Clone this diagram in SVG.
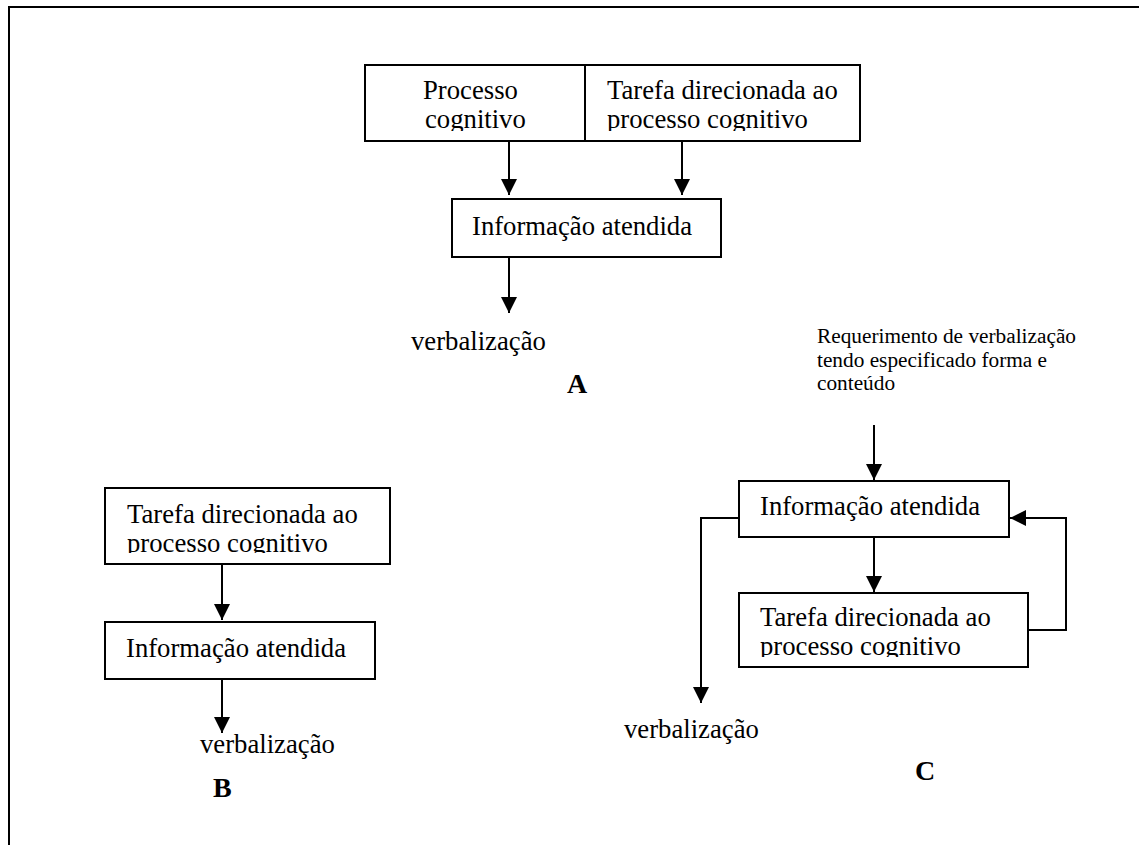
<svg xmlns="http://www.w3.org/2000/svg" width="1139" height="845" viewBox="0 0 1139 845">
<style>
  .box { fill: #fff; stroke: #000; stroke-width: 2; }
  .t { font-family: "Liberation Serif", "Times New Roman", serif; font-size: 26.7px; fill: #000; }
  .s { font-family: "Liberation Serif", "Times New Roman", serif; font-size: 21.3px; fill: #000; }
  .lbl { font-family: "Liberation Serif", "Times New Roman", serif; font-size: 28px; font-weight: bold; fill: #000; }
  .c { fill: none; stroke: #000; stroke-width: 2; marker-end: url(#ah); }
</style>
<defs>
  <marker id="ah" markerUnits="userSpaceOnUse" markerWidth="16" markerHeight="16" viewBox="0 0 16 16" refX="16" refY="8" orient="auto">
    <path d="M0,0 L16,8 L0,16 z" fill="#000"/>
  </marker>
  <clipPath id="clipA"><rect x="365" y="65" width="495" height="66"/></clipPath>
  <clipPath id="clipB1"><rect x="105" y="488" width="285" height="65"/></clipPath>
  <clipPath id="clipC2"><rect x="739" y="593" width="289" height="64"/></clipPath>
</defs>
<rect width="1139" height="845" fill="#fff"/>
<path d="M9,845 V7 H1139" fill="none" stroke="#000" stroke-width="2"/>

<g id="connectors">
  <path class="c" d="M509,141 V195"/>
  <path class="c" d="M682,141 V195"/>
  <path class="c" d="M509,257 V313"/>
  <path class="c" d="M222,564 V620"/>
  <path class="c" d="M222,679 V733"/>
  <path class="c" d="M874,425 V480"/>
  <path class="c" d="M874,537 V592"/>
  <path class="c" d="M739,518 H701 V703"/>
  <path class="c" d="M1028,630 H1066 V518 H1010"/>
</g>

<g id="A-processo">
  <rect class="box" x="365" y="65" width="220" height="76"/>
  <g clip-path="url(#clipA)">
    <text class="t" x="423" y="99">Processo</text>
    <text class="t" x="425" y="128">cognitivo</text>
  </g>
</g>
<g id="A-tarefa">
  <rect class="box" x="585" y="65" width="275" height="76"/>
  <g clip-path="url(#clipA)">
    <text class="t" x="607" y="99">Tarefa direcionada ao</text>
    <text class="t" x="607" y="128">processo cognitivo</text>
  </g>
</g>
<g id="A-info">
  <rect class="box" x="452" y="199" width="269" height="58"/>
  <text class="t" x="472" y="235">Informação atendida</text>
</g>
<g id="A-verb"><text class="t" x="411" y="350">verbalização</text></g>
<g id="A-label"><text class="lbl" x="567" y="393">A</text></g>

<g id="B-tarefa">
  <rect class="box" x="105" y="488" width="285" height="76"/>
  <g clip-path="url(#clipB1)">
    <text class="t" x="127" y="523">Tarefa direcionada ao</text>
    <text class="t" x="127" y="552">processo cognitivo</text>
  </g>
</g>
<g id="B-info">
  <rect class="box" x="105" y="622" width="270" height="57"/>
  <text class="t" x="126" y="657">Informação atendida</text>
</g>
<g id="B-verb"><text class="t" x="200" y="753">verbalização</text></g>
<g id="B-label"><text class="lbl" x="213" y="797">B</text></g>

<g id="C-req">
  <text class="s" x="817" y="343">Requerimento de verbalização</text>
  <text class="s" x="817" y="367">tendo especificado forma e</text>
  <text class="s" x="817" y="390">conteúdo</text>
</g>
<g id="C-info">
  <rect class="box" x="739" y="481" width="270" height="56"/>
  <text class="t" x="760" y="515">Informação atendida</text>
</g>
<g id="C-tarefa">
  <rect class="box" x="739" y="593" width="289" height="74"/>
  <g clip-path="url(#clipC2)">
    <text class="t" x="760" y="626">Tarefa direcionada ao</text>
    <text class="t" x="760" y="655">processo cognitivo</text>
  </g>
</g>
<g id="C-verb"><text class="t" x="624" y="738">verbalização</text></g>
<g id="C-label"><text class="lbl" x="915" y="780">C</text></g>
</svg>
